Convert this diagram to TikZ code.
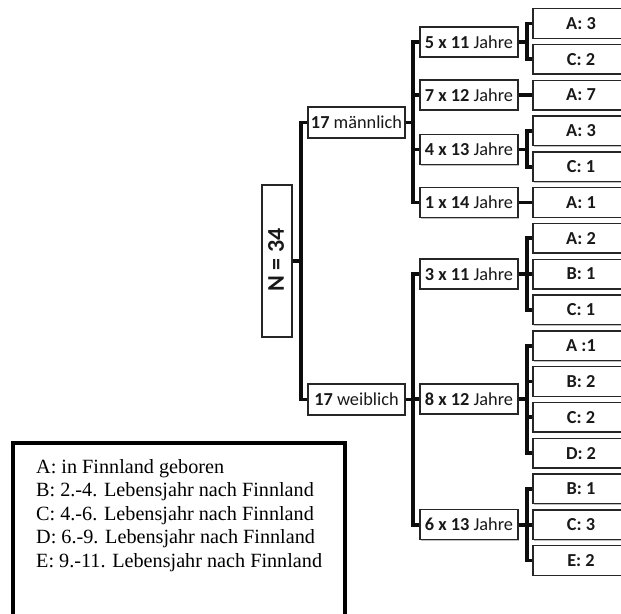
\documentclass[tikz,border=0pt]{standalone}
\usepackage{fontspec}
\setmainfont{Liberation Serif}
\newfontfamily\boxfont{Carlito}
\usetikzlibrary{shadows}
\tikzset{
  box/.style={draw=black!85, line width=1.4pt, fill=white, inner sep=0pt,
    text=black!90, font=\boxfont\fontsize{18.3}{20}\selectfont,
    drop shadow={shadow xshift=1.2pt, shadow yshift=-1.2pt, fill=black, opacity=0.25}},
  lvlone/.style={box, minimum width=97pt, minimum height=31pt},
  mid/.style={box, minimum width=98pt, minimum height=30pt},
  leaf/.style={box, minimum width=96pt, minimum height=29.5pt},
  conn/.style={line width=3.8pt, black!95},
  legendbox/.style={draw=black, line width=3.8pt}
}
\begin{document}
\begin{tikzpicture}[x=1pt,y=-1pt]
\useasboundingbox (0,0) rectangle (621,613);
\clip (0,0) rectangle (621,613);

% root
\node[box, minimum width=30pt, minimum height=152pt] (N) at (277,261) {};
\node[rotate=90, font=\boxfont\bfseries\fontsize{24}{26}\selectfont, text=black!90] (Nt) at (276,260) {N = 34};

% level one
\node[lvlone] (m) at (356.5,122.5) {\textbf{17} männlich};
\node[lvlone] (w) at (356.5,399.5) {\textbf{17} weiblich};

% middle
\node[mid] (m11) at (469,42) {\textbf{5 x 11} Jahre};
\node[mid] (m12) at (469,95.1) {\textbf{7 x 12} Jahre};
\node[mid] (m13) at (469,149.5) {\textbf{4 x 13} Jahre};
\node[mid] (m14) at (469,202.5) {\textbf{1 x 14} Jahre};
\node[mid] (w11) at (469,274.1) {\textbf{3 x 11} Jahre};
\node[mid] (w12) at (469,399) {\textbf{8 x 12} Jahre};
\node[mid] (w13) at (469,524.7) {\textbf{6 x 13} Jahre};

% leaves
\node[leaf] (l1)  at (581,23.5)  {\textbf{A: 3}};
\node[leaf] (l2)  at (581,59.3)  {\textbf{C: 2}};
\node[leaf] (l3)  at (581,95.1)  {\textbf{A: 7}};
\node[leaf] (l4)  at (581,130.9) {\textbf{A: 3}};
\node[leaf] (l5)  at (581,166.7) {\textbf{C: 1}};
\node[leaf] (l6)  at (581,202.5) {\textbf{A: 1}};
\node[leaf] (l7)  at (581,238.3) {\textbf{A: 2}};
\node[leaf] (l8)  at (581,274.1) {\textbf{B: 1}};
\node[leaf] (l9)  at (581,309.9) {\textbf{C: 1}};
\node[leaf] (l10) at (581,345.7) {\textbf{A :1}};
\node[leaf] (l11) at (581,381.5) {\textbf{B: 2}};
\node[leaf] (l12) at (581,417.3) {\textbf{C: 2}};
\node[leaf] (l13) at (581,453.1) {\textbf{D: 2}};
\node[leaf] (l14) at (581,488.9) {\textbf{B: 1}};
\node[leaf] (l15) at (581,524.7) {\textbf{C: 3}};
\node[leaf] (l16) at (581,560.5) {\textbf{E: 2}};

% connectors
\foreach \c in {m,w} \draw[conn] (N.east) -- ++(8,0) |- (\c.west);
\foreach \c in {m11,m12,m13,m14} \draw[conn] (m.east) -- ++(7,0) |- (\c.west);
\foreach \c in {w11,w12,w13} \draw[conn] (w.east) -- ++(7,0) |- (\c.west);
\foreach \c in {l1,l2} \draw[conn] (m11.east) -- ++(8,0) |- (\c.west);
\draw[conn] (m12.east) -- (l3.west);
\foreach \c in {l4,l5} \draw[conn] (m13.east) -- ++(8,0) |- (\c.west);
\draw[conn] (m14.east) -- (l6.west);
\foreach \c in {l7,l8,l9} \draw[conn] (w11.east) -- ++(8,0) |- (\c.west);
\foreach \c in {l10,l11,l12,l13} \draw[conn] (w12.east) -- ++(8,0) |- (\c.west);
\foreach \c in {l14,l15,l16} \draw[conn] (w13.east) -- ++(8,0) |- (\c.west);

% legend
\draw[legendbox] (13,443) rectangle (345,640);
\node[anchor=north west, inner sep=0pt, align=left, font=\fontsize{20.2}{23.5}\selectfont] (legend) at (36,459)
 {A: in Finnland geboren\\
  B: 2.-4. Lebensjahr nach Finnland\\
  C: 4.-6. Lebensjahr nach Finnland\\
  D: 6.-9. Lebensjahr nach Finnland\\
  E: 9.-11. Lebensjahr nach Finnland};
\end{tikzpicture}
\end{document}
